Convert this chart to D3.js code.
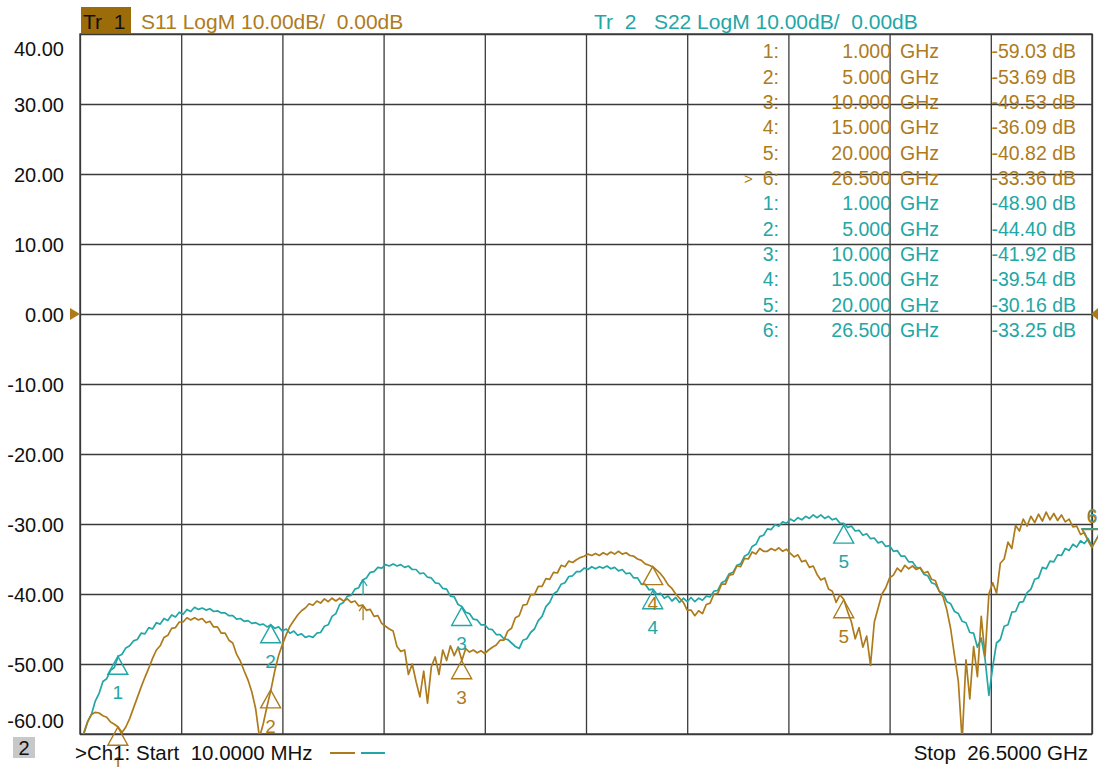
<!DOCTYPE html>
<html><head><meta charset="utf-8">
<script src="https://cdn.jsdelivr.net/npm/d3@7"></script>
<style>
body{margin:0;background:#fff}
svg{display:block}
text{font-family:"Liberation Sans",Arial,sans-serif;white-space:pre}
</style>
</head><body>
<svg id="c" width="1098" height="767"></svg>
<script>
// ---- data ----
const startGHz = 0.01, stopGHz = 26.5;
const yTicks = [40, 30, 20, 10, 0, -10, -20, -30, -40, -50, -60];
const yTickLabels = ["40.00","30.00","20.00","10.00","0.00","-10.00","-20.00","-30.00","-40.00","-50.00","-60.00"];

// S11 (Tr 1), dB, linear sweep 10 MHz .. 26.5 GHz
const s11 = [
-61.0,-59.8,-58.2,-57.2,-56.9,-57.0,-57.4,-57.6,-58.3,-58.6,
-59.0,-59.8,-59.0,-57.8,-56.3,-54.8,-53.3,-51.9,-50.6,-49.2,
-48.0,-47.4,-46.2,-45.9,-44.9,-44.8,-44.0,-44.0,-43.4,-43.7,
-43.4,-43.7,-43.5,-44.1,-43.9,-44.7,-44.7,-45.6,-45.6,-46.6,
-47.0,-48.6,-49.6,-51.0,-52.3,-54.0,-56.4,-60.5,-58.5,-56.0,
-53.7,-51.0,-48.8,-47.2,-45.8,-44.6,-43.8,-43.0,-42.4,-42.0,
-41.4,-41.6,-41.0,-41.3,-40.7,-41.1,-40.6,-41.0,-40.6,-41.0,
-40.7,-41.2,-41.0,-41.7,-41.6,-42.3,-42.2,-43.2,-43.1,-44.2,
-44.6,-45.0,-45.3,-47.5,-48.2,-48.0,-51.5,-50.0,-52.5,-54.7,
-51.0,-55.6,-50.4,-49.0,-51.5,-48.0,-49.5,-47.4,-48.8,-47.6,
-49.5,-47.8,-48.3,-48.0,-48.4,-48.1,-48.5,-48.0,-47.6,-47.3,
-46.6,-46.6,-45.3,-44.9,-43.4,-43.1,-41.6,-41.5,-40.1,-40.1,
-38.9,-38.9,-37.8,-37.9,-36.9,-37.0,-35.9,-36.1,-35.3,-35.5,
-35.1,-34.8,-34.6,-34.3,-34.5,-34.2,-34.5,-34.1,-34.4,-34.0,
-34.3,-33.9,-34.3,-34.1,-34.5,-34.6,-35.0,-35.2,-35.7,-35.9,
-36.1,-36.6,-37.1,-37.8,-38.7,-39.2,-40.0,-40.6,-41.2,-42.3,
-42.3,-43.1,-42.4,-42.8,-41.5,-41.3,-40.0,-39.9,-38.6,-38.6,
-37.3,-37.2,-36.0,-36.1,-34.9,-35.0,-34.0,-34.3,-33.5,-33.9,
-33.9,-33.5,-33.8,-33.4,-33.9,-33.6,-34.2,-34.7,-34.4,-35.4,
-35.2,-36.2,-36.0,-37.2,-38.0,-37.7,-39.3,-39.6,-41.2,-40.1,
-40.8,-42.5,-44.0,-46.4,-44.8,-47.6,-46.0,-50.2,-44.0,-42.0,
-40.0,-39.1,-37.7,-37.3,-36.3,-36.8,-35.9,-36.4,-36.0,-36.5,
-36.2,-37.0,-36.8,-37.9,-38.1,-39.6,-40.4,-42.3,-45.0,-48.8,
-52.5,-61.0,-49.4,-55.0,-47.5,-51.8,-43.2,-48.9,-40.0,-38.4,
-39.9,-35.6,-35.0,-32.6,-33.5,-30.2,-31.0,-29.3,-30.3,-28.9,
-29.8,-28.6,-29.6,-28.3,-29.4,-28.5,-29.5,-28.7,-29.7,-29.3,
-30.4,-30.3,-31.5,-31.2,-32.4,-33.4
];

// S22 (Tr 2), dB, same sweep
const s22 = [
-61.5,-60.0,-58.3,-57.2,-55.3,-54.2,-52.5,-52.1,-50.9,-50.5,
-48.9,-48.6,-47.7,-47.4,-46.7,-46.5,-45.6,-45.7,-44.8,-45.0,
-44.1,-44.3,-43.5,-43.8,-43.0,-43.3,-42.6,-42.9,-42.2,-42.5,
-41.9,-42.2,-42.0,-42.3,-42.1,-42.5,-42.4,-42.7,-42.7,-43.1,
-43.1,-43.6,-43.5,-43.9,-43.8,-44.2,-44.1,-44.4,-44.3,-44.7,
-44.4,-44.9,-44.7,-45.3,-45.0,-45.6,-45.3,-45.9,-45.7,-46.2,
-46.0,-46.2,-45.6,-45.5,-44.6,-44.4,-43.2,-42.8,-41.5,-41.2,
-40.3,-40.2,-39.3,-39.1,-38.0,-37.7,-36.9,-36.8,-36.2,-36.3,
-35.8,-36.0,-35.7,-36.0,-35.8,-36.2,-36.0,-36.5,-36.5,-37.1,
-37.0,-37.6,-37.7,-38.4,-38.5,-39.2,-39.3,-40.3,-40.4,-41.5,
-41.8,-42.6,-42.8,-43.6,-43.7,-44.4,-44.4,-45.0,-45.1,-45.8,
-45.8,-46.4,-46.5,-47.0,-47.5,-47.8,-46.6,-46.4,-45.5,-45.0,
-43.8,-43.2,-41.8,-41.2,-40.0,-39.6,-38.6,-38.4,-37.5,-37.4,
-36.8,-36.8,-36.3,-36.5,-36.1,-36.4,-36.1,-36.3,-36.0,-36.4,
-36.2,-36.7,-36.5,-37.1,-37.0,-37.7,-37.7,-38.6,-38.6,-39.4,
-39.3,-40.0,-39.9,-40.6,-40.3,-41.0,-40.5,-41.2,-40.6,-41.1,
-40.5,-41.1,-40.6,-40.9,-40.3,-40.4,-39.6,-39.5,-38.4,-38.1,
-37.1,-36.9,-35.9,-35.7,-34.6,-34.3,-33.2,-32.9,-31.8,-31.6,
-30.7,-30.8,-30.1,-30.3,-29.7,-29.9,-29.3,-29.6,-29.1,-29.4,
-28.9,-29.2,-28.7,-29.1,-28.7,-29.2,-28.9,-29.4,-29.2,-29.9,
-29.9,-30.5,-30.3,-31.0,-30.9,-31.6,-31.4,-32.1,-32.0,-32.7,
-32.5,-33.2,-33.1,-33.9,-33.8,-34.6,-34.6,-35.4,-35.4,-36.2,
-36.3,-37.2,-37.4,-38.4,-38.6,-39.6,-39.9,-41.1,-41.4,-42.5,
-42.8,-43.9,-44.1,-45.5,-45.6,-47.6,-46.3,-49.3,-54.5,-50.4,
-47.0,-46.5,-44.6,-44.4,-42.6,-42.5,-41.2,-41.1,-39.8,-39.3,
-37.9,-37.7,-36.2,-36.4,-35.3,-35.4,-34.4,-34.5,-33.5,-33.8,
-32.9,-33.3,-32.4,-32.8,-32.1,-33.2
];

const markerFreqs = [1, 5, 10, 15, 20, 26.5];
const markerNames = ["1", "2", "3", "4", "5", "6"];
const markerFreqLabels = ["1.000", "5.000", "10.000", "15.000", "20.000", "26.500"];
const s11MarkerDb = [-59.03, -53.69, -49.53, -36.09, -40.82, -33.36];
const s22MarkerDb = [-48.90, -44.40, -41.92, -39.54, -30.16, -33.25];
const s11MarkerText = ["-59.03 dB", "-53.69 dB", "-49.53 dB", "-36.09 dB", "-40.82 dB", "-33.36 dB"];
const s22MarkerText = ["-48.90 dB", "-44.40 dB", "-41.92 dB", "-39.54 dB", "-30.16 dB", "-33.25 dB"];
const activeMarker = 5;
const arrowFreq = 7.42;

// ---- drawing ----
const brown = "#ad7b1c", teal = "#23a6a6", gridColor = "#3a3a3a";
const svg = d3.select("#c");
const n = s11.length;
const step = (stopGHz - startGHz) / (n - 1);
const freqAt = i => startGHz + i * step;

const x = d3.scaleLinear().domain([startGHz, stopGHz]).range([80, 1092]);
const y = d3.scaleLinear().domain([-60, 40]).range([734, 34]);
const pw = x(stopGHz) - x(startGHz), ph = y(-60) - y(40);

// vertical grid
const xGridVals = d3.range(11).map(i => startGHz + i * (stopGHz - startGHz) / 10);
svg.append("g").attr("transform", `translate(0,${y(-60)})`)
  .call(d3.axisBottom(x).tickValues(xGridVals).tickSize(-ph).tickFormat(""))
  .call(g => { g.select(".domain").remove();
    g.selectAll("line").attr("stroke", gridColor).attr("stroke-width", 1.3); });

// horizontal grid + labels
const yAxis = svg.append("g").attr("transform", `translate(${x(startGHz)},0)`)
  .call(d3.axisLeft(y).tickValues(yTicks).tickSize(-pw).tickPadding(16)
    .tickFormat(d => yTickLabels[yTicks.indexOf(d)]));
yAxis.select(".domain").remove();
yAxis.selectAll("line").attr("stroke", gridColor).attr("stroke-width", 1.3);
yAxis.selectAll("text").attr("font-size", 20).attr("fill", "#111")
  .attr("font-family", '"Liberation Sans", Arial, sans-serif')
  .attr("dy", d => d === 40 ? "1.05em" : d === -60 ? "-0.35em" : "0.35em");

svg.append("rect").attr("x", x(startGHz)).attr("y", y(40)).attr("width", pw).attr("height", ph)
  .attr("fill", "none").attr("stroke", gridColor).attr("stroke-width", 1.4);

// traces
svg.append("clipPath").attr("id", "clip").append("rect")
  .attr("x", x(startGHz)).attr("y", y(40)).attr("width", pw).attr("height", ph);
const line = d3.line().x((d, i) => x(freqAt(i))).y(d => y(d));
const traces = svg.append("g").attr("clip-path", "url(#clip)");
traces.append("path").datum(s22).attr("d", line).attr("fill", "none")
  .attr("stroke", teal).attr("stroke-width", 1.7).attr("stroke-linejoin", "round");
traces.append("path").datum(s11).attr("d", line).attr("fill", "none")
  .attr("stroke", brown).attr("stroke-width", 1.7).attr("stroke-linejoin", "round");

// small arrows on both traces
function valueAt(arr, f) { return arr[Math.round((f - startGHz) / step)]; }
[[s22, teal], [s11, brown]].forEach(([arr, col]) => {
  const ax = x(arrowFreq), ay = y(valueAt(arr, arrowFreq));
  svg.append("path").attr("d", `M${ax},${ay}L${ax},${ay + 15}M${ax - 4},${ay + 6}L${ax},${ay}L${ax + 4},${ay + 6}`)
    .attr("fill", "none").attr("stroke", col).attr("stroke-width", 1.3);
});

// markers
function drawMarkers(dbs, col) {
  const g = svg.append("g");
  markerFreqs.forEach((f, k) => {
    const mx = x(f), my = y(dbs[k]);
    const up = k !== activeMarker;
    const h = up ? 18 : -18;
    g.append("path").attr("d", `M${mx},${my}L${mx - 10},${my + h}L${mx + 10},${my + h}Z`)
      .attr("fill", "none").attr("stroke", col).attr("stroke-width", 1.4);
    g.append("text").attr("x", mx).attr("y", up ? my + 43 : my - 25)
      .attr("text-anchor", "middle").attr("font-size", 19).attr("fill", col).text(markerNames[k]);
  });
}
drawMarkers(s22MarkerDb, teal);
drawMarkers(s11MarkerDb, brown);

// reference level arrows
svg.append("path").attr("d", `M70,${y(0) - 6}L80,${y(0)}L70,${y(0) + 6}Z`).attr("fill", brown);
svg.append("path").attr("d", `M1098,${y(0) - 6}L1091,${y(0)}L1098,${y(0) + 6}Z`).attr("fill", brown);

// header
svg.append("rect").attr("x", 81).attr("y", 7).attr("width", 50).attr("height", 26).attr("fill", "#9c6b0a");
svg.append("text").attr("x", 83).attr("y", 28.5).attr("font-size", 21).attr("fill", "#111").text("Tr  1");
svg.append("text").attr("x", 141).attr("y", 28.5).attr("font-size", 21).attr("fill", brown).text("S11 LogM 10.00dB/  0.00dB");
svg.append("text").attr("x", 594).attr("y", 28.5).attr("font-size", 21).attr("fill", teal).text("Tr  2   S22 LogM 10.00dB/  0.00dB");

// marker table
const rows = [];
markerFreqs.forEach((f, k) => rows.push({ name: markerNames[k], fl: markerFreqLabels[k], v: s11MarkerText[k], col: brown, act: k === activeMarker }));
markerFreqs.forEach((f, k) => rows.push({ name: markerNames[k], fl: markerFreqLabels[k], v: s22MarkerText[k], col: teal, act: false }));
const tb = svg.append("g").attr("font-size", 19.5);
rows.forEach((r, k) => {
  const by = 58.3 + k * 25.35;
  if (r.act) tb.append("text").attr("x", 744).attr("y", by - 1).attr("font-size", 15).attr("fill", r.col).text(">");
  tb.append("text").attr("x", 779).attr("y", by).attr("text-anchor", "end").attr("fill", r.col).text(r.name + ":");
  tb.append("text").attr("x", 891).attr("y", by).attr("text-anchor", "end").attr("fill", r.col).text(r.fl);
  tb.append("text").attr("x", 900).attr("y", by).attr("fill", r.col).text("GHz");
  tb.append("text").attr("x", 1076).attr("y", by).attr("text-anchor", "end").attr("fill", r.col).text(r.v);
});

// footer
svg.append("rect").attr("x", 13).attr("y", 737).attr("width", 22).attr("height", 21).attr("fill", "#c8c8c8");
svg.append("text").attr("x", 24).attr("y", 755).attr("text-anchor", "middle").attr("font-size", 20).attr("fill", "#111").text("2");
svg.append("text").attr("x", 75).attr("y", 760).attr("font-size", 20.5).attr("fill", "#111").text(">Ch1: Start  10.0000 MHz");
svg.append("line").attr("x1", 330).attr("x2", 355).attr("y1", 753).attr("y2", 753).attr("stroke", brown).attr("stroke-width", 2);
svg.append("line").attr("x1", 361).attr("x2", 385).attr("y1", 753).attr("y2", 753).attr("stroke", teal).attr("stroke-width", 2);
svg.append("text").attr("x", 1088).attr("y", 760).attr("text-anchor", "end").attr("font-size", 20.5).attr("fill", "#111").text("Stop  26.5000 GHz");
</script>
</body></html>
